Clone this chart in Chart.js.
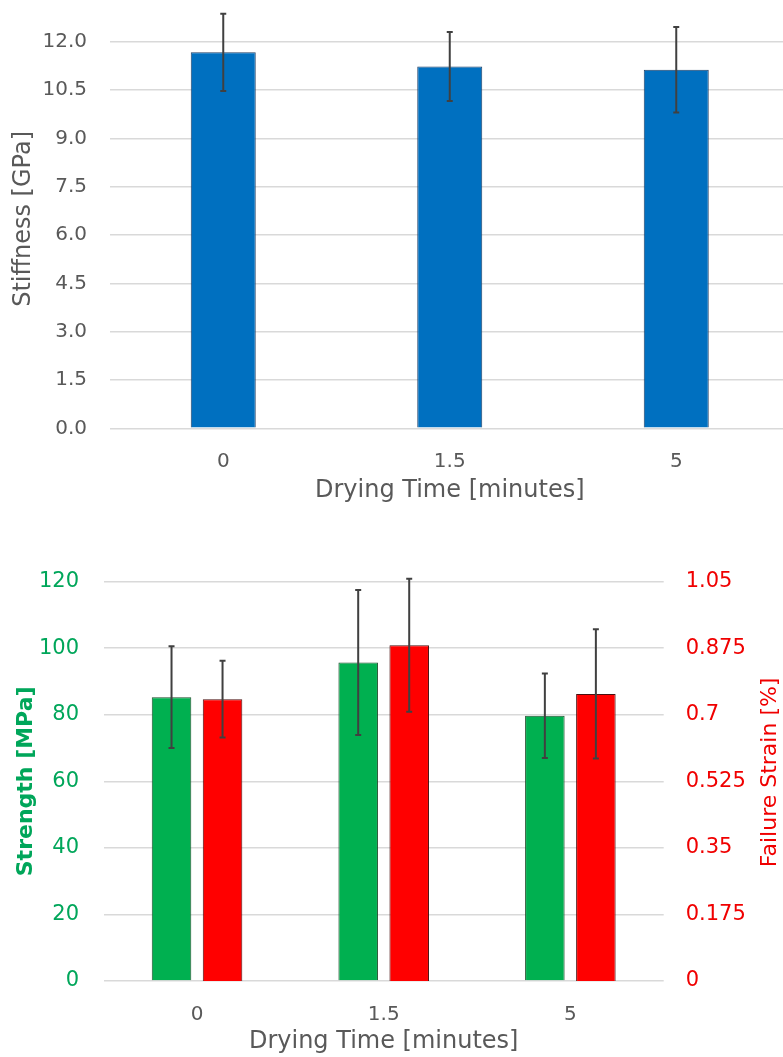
<!DOCTYPE html>
<html>
<head>
<meta charset="utf-8">
<script src="https://cdn.jsdelivr.net/npm/chart.js@4/dist/chart.umd.min.js"></script>
<style>
  html, body { margin: 0; padding: 0; background: #ffffff; overflow: hidden; width: 783px; height: 1057px; }
  #topWrap { position: absolute; left: 0; top: 0; width: 783px; height: 530px; overflow: hidden; }
  #botWrap { position: absolute; left: 0; top: 530px; width: 783px; height: 527px; overflow: hidden; }
  canvas { display: block; }
</style>
</head>
<body>
<div id="topWrap"><canvas id="c1" width="800" height="530"></canvas></div>
<div id="botWrap"><canvas id="c2" width="783" height="527"></canvas></div>
<script>
// ---- data ----
const categories = ['0', '1.5', '5'];
const stiffness = [11.67, 11.23, 11.13];
const stiffnessErr = [1.20, 1.07, 1.33];
const stiffnessTicks = [0, 1.5, 3, 4.5, 6, 7.5, 9, 10.5, 12];

const strength = [85.3, 95.7, 79.7];
const strengthErr = [15.3, 21.8, 12.7];
const strengthTicks = [0, 20, 40, 60, 80, 100, 120];

const strain = [0.741, 0.883, 0.755];
const strainErr = [0.101, 0.175, 0.170];
const strainTicks = [0, 0.175, 0.35, 0.525, 0.7, 0.875, 1.05];

// ---- styles ----
const FONT = 'DejaVu Sans';
const GREY = '#595959';
const GRID = '#d9d9d9';
const GREEN_TXT = '#00A65A';
const RED_TXT = '#F00000';

const errorBarPlugin = {
  id: 'errorBars',
  afterDatasetsDraw(chart) {
    const ctx = chart.ctx;
    chart.data.datasets.forEach((ds, i) => {
      if (!ds.errors) return;
      const meta = chart.getDatasetMeta(i);
      const scale = chart.scales[meta.yAxisID];
      meta.data.forEach((bar, j) => {
        const v = ds.data[j], e = ds.errors[j];
        const x = bar.x;
        const yt = scale.getPixelForValue(v + e);
        const yb = scale.getPixelForValue(v - e);
        ctx.save();
        ctx.strokeStyle = '#404040';
        ctx.lineWidth = 2;
        ctx.beginPath();
        ctx.moveTo(x, yt); ctx.lineTo(x, yb);
        ctx.moveTo(x - 3, yt); ctx.lineTo(x + 3, yt);
        ctx.moveTo(x - 3, yb); ctx.lineTo(x + 3, yb);
        ctx.stroke();
        ctx.restore();
      });
    });
  }
};

// right-axis title that reads bottom-to-top (like the reference)
const rightTitlePlugin = {
  id: 'rightTitle',
  afterDraw(chart, args, opts) {
    if (!opts || !opts.text) return;
    const scale = chart.scales[opts.scaleID];
    const ctx = chart.ctx;
    const ca = chart.chartArea;
    ctx.save();
    ctx.translate(scale.right - opts.offsetX, (ca.top + ca.bottom) / 2 + opts.offsetY);
    ctx.rotate(-Math.PI / 2);
    ctx.fillStyle = opts.color;
    ctx.font = opts.font;
    ctx.textAlign = 'center';
    ctx.textBaseline = 'middle';
    ctx.fillText(opts.text, 0, 0);
    ctx.restore();
  }
};

function fixedTicks(values) {
  return function (scale) {
    scale.ticks = values.map(v => ({ value: v }));
  };
}
function fixWidth(w) {
  return function (s) { s.width = w; s.paddingTop = 0; s.paddingBottom = 0; };
}
function fixHeight(h) {
  return function (s) { s.height = h; s.paddingLeft = 0; s.paddingRight = 0; };
}

// ---- top chart: stiffness ----
new Chart(document.getElementById('c1'), {
  type: 'bar',
  data: {
    labels: categories,
    datasets: [{
      data: stiffness,
      errors: stiffnessErr,
      backgroundColor: '#0070C0',
      borderColor: '#1F3F66',
      borderWidth: 1,
      categoryPercentage: 1.0,
      barPercentage: 0.287
    }]
  },
  options: {
    responsive: false,
    animation: false,
    devicePixelRatio: 1,
    layout: { padding: { left: 0, right: 10.5, top: 9.5, bottom: 25.1 } },
    plugins: { legend: { display: false }, tooltip: { enabled: false } },
    scales: {
      x: {
        grid: { display: false, drawTicks: false },
        border: { display: false },
        ticks: { color: GREY, font: { family: FONT, size: 20 }, padding: 21.7 },
        title: { display: true, text: 'Drying Time [minutes]', color: GREY, font: { family: FONT, size: 24 }, padding: { top: 0, bottom: 0 } },
        afterFit: fixHeight(76.6)
      },
      y: {
        min: 0, max: 13,
        afterBuildTicks: fixedTicks(stiffnessTicks),
        grid: { color: GRID, lineWidth: 1.5, drawTicks: false },
        border: { display: false },
        ticks: { color: GREY, font: { family: FONT, size: 20 }, padding: 23, callback: v => Number(v).toFixed(1) },
        title: { display: true, text: 'Stiffness [GPa]', color: GREY, font: { family: FONT, size: 24 }, padding: { top: 9.6, bottom: 0 } },
        afterFit: fixWidth(110)
      }
    }
  },
  plugins: [errorBarPlugin]
});

// ---- bottom chart: strength and failure strain ----
new Chart(document.getElementById('c2'), {
  type: 'bar',
  data: {
    labels: categories,
    datasets: [{
      data: strength,
      errors: strengthErr,
      yAxisID: 'y',
      backgroundColor: '#00B050',
      borderColor: '#1E4D2B',
      borderWidth: 1,
      categoryPercentage: 0.5466,
      barPercentage: 0.775
    }, {
      data: strain,
      errors: strainErr,
      yAxisID: 'y1',
      backgroundColor: '#FF0000',
      borderColor: '#4A1010',
      borderWidth: 1,
      categoryPercentage: 0.5466,
      barPercentage: 0.775
    }]
  },
  options: {
    responsive: false,
    animation: false,
    devicePixelRatio: 1,
    layout: { padding: { left: 0, right: 0, top: 51.7, bottom: 0.6 } },
    plugins: {
      legend: { display: false },
      tooltip: { enabled: false },
      rightTitle: { text: 'Failure Strain [%]', scaleID: 'y1', color: RED_TXT, font: '22px "DejaVu Sans"', offsetX: 13, offsetY: -9 }
    },
    scales: {
      x: {
        grid: { display: false, drawTicks: false },
        border: { display: false },
        ticks: { color: GREY, font: { family: FONT, size: 20 }, padding: 22 },
        title: { display: true, text: 'Drying Time [minutes]', color: GREY, font: { family: FONT, size: 24 }, padding: { top: 0, bottom: 0 } },
        afterFit: fixHeight(75.4)
      },
      y: {
        position: 'left',
        min: 0, max: 120,
        afterBuildTicks: fixedTicks(strengthTicks),
        grid: { color: GRID, lineWidth: 1.5, drawTicks: false },
        border: { display: false },
        ticks: { color: GREEN_TXT, font: { family: FONT, size: 21 }, padding: 24.7 },
        title: { display: true, text: 'Strength [MPa]', color: GREEN_TXT, font: { family: FONT, size: 22, weight: 'bold' }, padding: { top: 12.8, bottom: 0 } },
        afterFit: fixWidth(103.7)
      },
      y1: {
        position: 'right',
        min: 0, max: 1.05,
        afterBuildTicks: fixedTicks(strainTicks),
        grid: { display: false, drawTicks: false },
        border: { display: false },
        ticks: { color: RED_TXT, font: { family: FONT, size: 21 }, padding: 22, callback: v => String(v) },
        title: { display: false, text: 'Failure Strain [%]' },
        afterFit: fixWidth(119.3)
      }
    }
  },
  plugins: [errorBarPlugin, rightTitlePlugin]
});
</script>
</body>
</html>
